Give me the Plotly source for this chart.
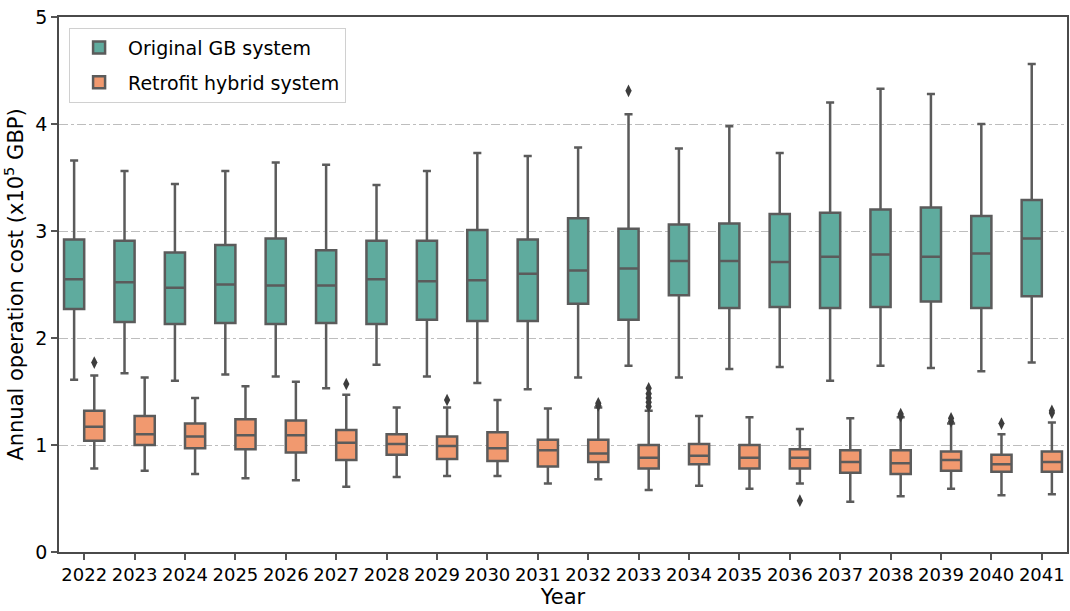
import plotly.graph_objects as go

years = [str(y) for y in range(2022, 2042)]

# Original GB system: box statistics (x10^5 GBP)
gb_low = [1.61, 1.67, 1.60, 1.66, 1.64, 1.53, 1.75, 1.64, 1.58, 1.52,
          1.63, 1.74, 1.63, 1.71, 1.73, 1.60, 1.74, 1.72, 1.69, 1.77]
gb_q1 = [2.27, 2.15, 2.13, 2.14, 2.13, 2.14, 2.13, 2.17, 2.16, 2.16,
         2.32, 2.17, 2.40, 2.28, 2.29, 2.28, 2.29, 2.34, 2.28, 2.39]
gb_med = [2.55, 2.52, 2.47, 2.50, 2.49, 2.49, 2.55, 2.53, 2.54, 2.60,
          2.63, 2.65, 2.72, 2.72, 2.71, 2.76, 2.78, 2.76, 2.79, 2.93]
gb_q3 = [2.92, 2.91, 2.80, 2.87, 2.93, 2.82, 2.91, 2.91, 3.01, 2.92,
         3.12, 3.02, 3.06, 3.07, 3.16, 3.17, 3.20, 3.22, 3.14, 3.29]
gb_high = [3.66, 3.56, 3.44, 3.56, 3.64, 3.62, 3.43, 3.56, 3.73, 3.70,
           3.78, 4.09, 3.77, 3.98, 3.73, 4.20, 4.33, 4.28, 4.00, 4.56]
gb_out_year = ["2033"]
gb_out_val = [4.31]

# Retrofit hybrid system: box statistics (x10^5 GBP)
rh_low = [0.78, 0.76, 0.73, 0.69, 0.67, 0.61, 0.70, 0.71, 0.71, 0.64,
          0.68, 0.58, 0.62, 0.59, 0.64, 0.47, 0.52, 0.59, 0.53, 0.54]
rh_q1 = [1.04, 1.00, 0.97, 0.96, 0.93, 0.86, 0.91, 0.87, 0.85, 0.80,
         0.84, 0.78, 0.82, 0.78, 0.78, 0.74, 0.73, 0.76, 0.75, 0.75]
rh_med = [1.17, 1.10, 1.08, 1.09, 1.09, 1.02, 1.01, 0.99, 0.97, 0.95,
          0.92, 0.88, 0.90, 0.88, 0.88, 0.84, 0.83, 0.86, 0.82, 0.84]
rh_q3 = [1.32, 1.27, 1.20, 1.24, 1.23, 1.14, 1.10, 1.08, 1.12, 1.05,
         1.05, 1.00, 1.01, 1.00, 0.96, 0.95, 0.95, 0.94, 0.91, 0.94]
rh_high = [1.65, 1.63, 1.44, 1.55, 1.59, 1.47, 1.35, 1.35, 1.42, 1.34,
           1.35, 1.32, 1.27, 1.26, 1.15, 1.25, 1.26, 1.20, 1.10, 1.21]
rh_out_year = ["2022", "2027", "2029", "2032", "2032",
               "2033", "2033", "2033", "2033", "2033",
               "2036", "2038", "2038", "2039", "2039", "2040", "2041", "2041"]
rh_out_val = [1.77, 1.57, 1.42, 1.37, 1.39,
              1.53, 1.48, 1.44, 1.40, 1.36,
              0.48, 1.27, 1.29, 1.22, 1.25, 1.20, 1.30, 1.32]

GREEN = "#5fab9e"
ORANGE = "#f1996f"
EDGE = "#5b5b5b"
DODGE = 0.2
BOX_W = 0.4

idx = {y: i for i, y in enumerate(years)}

fig = go.Figure()


def add_group(name, color, shift, low, q1, med, q3, high, out_year, out_val):
    xs = [idx[y] + shift for y in years]
    fig.add_trace(go.Box(
        name=name, x=xs, q1=q1, median=med, q3=q3,
        lowerfence=low, upperfence=high,
        width=BOX_W, whiskerwidth=0.4,
        fillcolor=color, line=dict(color=EDGE, width=2.5),
        boxpoints=False, legendgroup=name,
    ))
    fig.add_trace(go.Scatter(
        x=[idx[y] + shift for y in out_year], y=out_val, mode="markers",
        marker=dict(symbol="diamond-tall", size=9, color="#3d3d3d"),
        showlegend=False, legendgroup=name, hoverinfo="y",
    ))


add_group("Original GB system", GREEN, -DODGE,
          gb_low, gb_q1, gb_med, gb_q3, gb_high, gb_out_year, gb_out_val)
add_group("Retrofit hybrid system", ORANGE, DODGE,
          rh_low, rh_q1, rh_med, rh_q3, rh_high, rh_out_year, rh_out_val)

font = "DejaVu Sans, Liberation Sans, sans-serif"
fig.update_layout(
    width=1070, height=611,
    margin=dict(l=59, r=1, t=17, b=59),
    paper_bgcolor="white", plot_bgcolor="white",
    font=dict(family=font, size=18, color="black"),
    legend=dict(x=0.01, y=0.98, xanchor="left", yanchor="top",
                bgcolor="rgba(255,255,255,0.8)", bordercolor="#d0d0d0",
                borderwidth=1, font=dict(size=19), itemwidth=48,
                tracegroupgap=7),
    showlegend=True,
)
fig.update_xaxes(
    range=[-0.5, len(years) - 0.5],
    tickmode="array", tickvals=list(range(len(years))), ticktext=years,
    ticks="outside", ticklen=6, tickcolor="#555", tickwidth=1.5,
    showline=True, linecolor="#4a4a4a", linewidth=1.5, mirror=True,
    showgrid=False, zeroline=False,
    title=dict(text="Year", font=dict(size=21), standoff=5),
)
fig.update_yaxes(
    range=[0, 5], tickvals=[0, 1, 2, 3, 4, 5],
    ticks="outside", ticklen=6, tickcolor="#555", tickwidth=1.5,
    tickfont=dict(size=19),
    showline=True, linecolor="#4a4a4a", linewidth=1.5, mirror=True,
    showgrid=True, gridcolor="#bdbdbd", gridwidth=1, griddash="dashdot",
    zeroline=False,
    title=dict(text="Annual operation cost (x10<sup>5</sup> GBP)",
               font=dict(size=21), standoff=9),
)

fig.write_html("out.html")
